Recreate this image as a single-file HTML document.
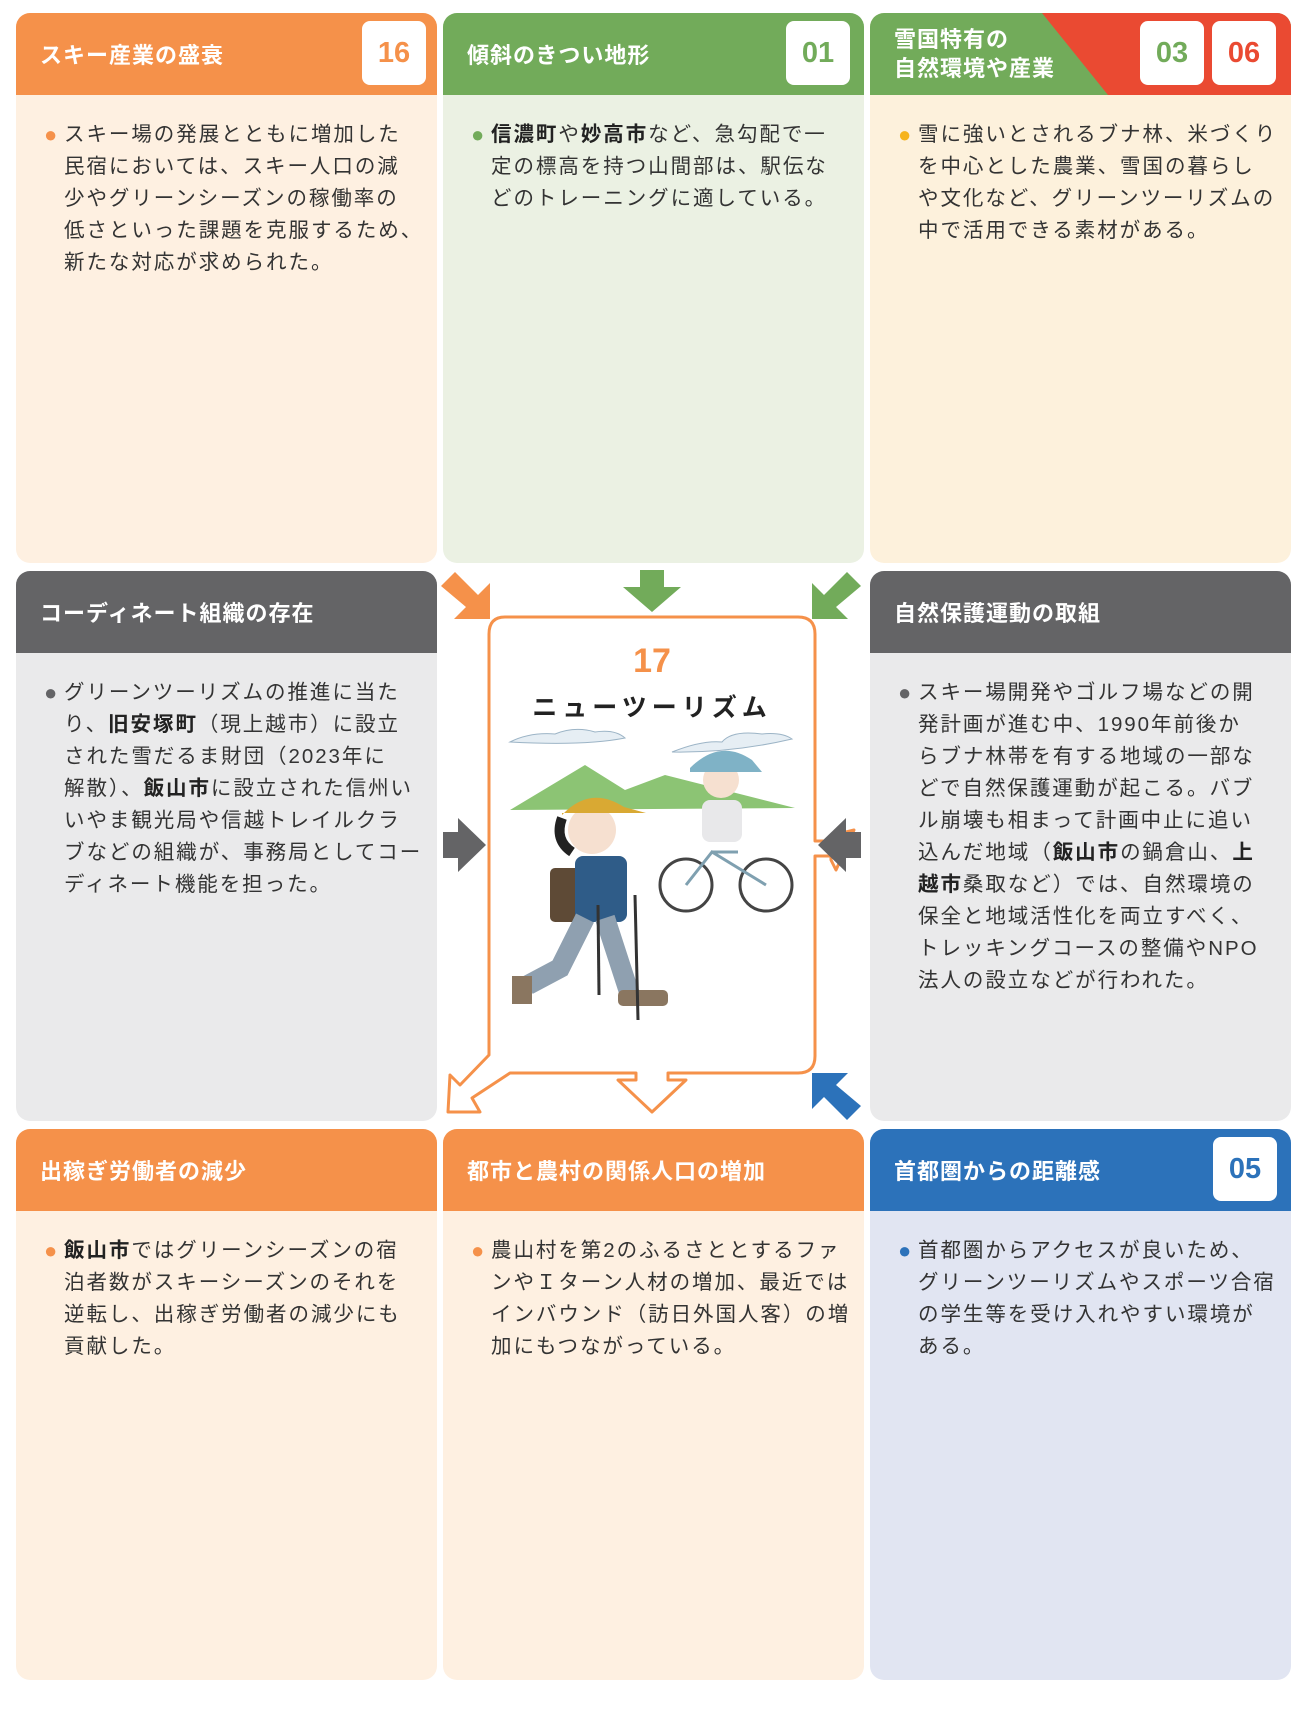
<!DOCTYPE html>
<html><head><meta charset="utf-8">
<style>
*{margin:0;padding:0;box-sizing:border-box}
body{width:1302px;height:1712px;background:#fff;position:relative;overflow:hidden;font-family:"Liberation Sans","Noto Sans CJK JP",sans-serif;}
.p{position:absolute;border-radius:14px;overflow:hidden}
.h{position:absolute;left:0;right:0;top:0;height:82px;color:#fff;font-weight:bold;font-size:22px;letter-spacing:1px;padding-left:24px;display:flex;align-items:center}
.b{position:absolute;left:0;right:0;top:82px;bottom:0;padding:24px 10px 0 48px;font-size:20.5px;line-height:32px;color:#333;letter-spacing:1.95px;white-space:nowrap}
.b .d{position:absolute;left:28px;font-size:22px;letter-spacing:0}
.num{position:absolute;top:8px;width:64px;height:64px;background:#fff;border-radius:8px;font-size:29px;font-weight:bold;display:flex;align-items:center;justify-content:center;font-family:"Liberation Sans Narrow","Liberation Sans",sans-serif}
b{font-weight:bold;color:#222}
</style></head><body>

<div class="p" style="left:16px;top:13px;width:421px;height:550px;background:#FEF0E1">
 <div class="h" style="background:#F5914A">スキー産業の盛衰</div>
 <div class="num" style="left:346px;color:#F5914A">16</div>
 <div class="b"><span class="d" style="color:#F5914A">●</span>スキー場の発展とともに増加した<br>民宿においては、スキー人口の減<br>少やグリーンシーズンの稼働率の<br>低さといった課題を克服するため、<br>新たな対応が求められた。</div>
</div>
<div class="p" style="left:443px;top:13px;width:421px;height:550px;background:#EBF1E3">
 <div class="h" style="background:#72AB5A">傾斜のきつい地形</div>
 <div class="num" style="left:343px;color:#72AB5A">01</div>
 <div class="b"><span class="d" style="color:#72AB5A">●</span><b>信濃町</b>や<b>妙高市</b>など、急勾配で一<br>定の標高を持つ山間部は、駅伝な<br>どのトレーニングに適している。</div>
</div>
<div class="p" style="left:870px;top:13px;width:421px;height:550px;background:#FDF1DC">
 <div class="h" style="background:#72AB5A;line-height:29px;align-items:center">雪国特有の<br>自然環境や産業</div>
 <svg style="position:absolute;left:0;top:0" width="421" height="82"><polygon points="172,0 421,0 421,82 238,82" fill="#EA4A32"/></svg>
 <div class="num" style="left:270px;color:#72AB5A">03</div>
 <div class="num" style="left:342px;color:#EA4A32">06</div>
 <div class="b"><span class="d" style="color:#F6B31B">●</span>雪に強いとされるブナ林、米づくり<br>を中心とした農業、雪国の暮らし<br>や文化など、グリーンツーリズムの<br>中で活用できる素材がある。</div>
</div>

<div class="p" style="left:16px;top:571px;width:421px;height:550px;background:#EAEAEB">
 <div class="h" style="background:#646466">コーディネート組織の存在</div>
 <div class="b"><span class="d" style="color:#646466">●</span>グリーンツーリズムの推進に当た<br>り、<b>旧安塚町</b>（現上越市）に設立<br>された雪だるま財団（2023年に<br>解散）、<b>飯山市</b>に設立された信州い<br>いやま観光局や信越トレイルクラ<br>ブなどの組織が、事務局としてコー<br>ディネート機能を担った。</div>
</div>
<div class="p" style="left:870px;top:571px;width:421px;height:550px;background:#EAEAEB">
 <div class="h" style="background:#646466">自然保護運動の取組</div>
 <div class="b"><span class="d" style="color:#646466">●</span>スキー場開発やゴルフ場などの開<br>発計画が進む中、1990年前後か<br>らブナ林帯を有する地域の一部な<br>どで自然保護運動が起こる。バブ<br>ル崩壊も相まって計画中止に追い<br>込んだ地域（<b>飯山市</b>の鍋倉山、<b>上<br>越市</b>桑取など）では、自然環境の<br>保全と地域活性化を両立すべく、<br>トレッキングコースの整備やNPO<br>法人の設立などが行われた。</div>
</div>

<div class="p" style="left:16px;top:1129px;width:421px;height:551px;background:#FEF0E1">
 <div class="h" style="background:#F5914A">出稼ぎ労働者の減少</div>
 <div class="b"><span class="d" style="color:#F5914A">●</span><b>飯山市</b>ではグリーンシーズンの宿<br>泊者数がスキーシーズンのそれを<br>逆転し、出稼ぎ労働者の減少にも<br>貢献した。</div>
</div>
<div class="p" style="left:443px;top:1129px;width:421px;height:551px;background:#FEF0E1">
 <div class="h" style="background:#F5914A">都市と農村の関係人口の増加</div>
 <div class="b"><span class="d" style="color:#F5914A">●</span>農山村を第2のふるさととするファ<br>ンやＩターン人材の増加、最近では<br>インバウンド（訪日外国人客）の増<br>加にもつながっている。</div>
</div>
<div class="p" style="left:870px;top:1129px;width:421px;height:551px;background:#E1E5F2">
 <div class="h" style="background:#2C72BA">首都圏からの距離感</div>
 <div class="num" style="left:343px;color:#2C72BA">05</div>
 <div class="b"><span class="d" style="color:#2C72BA">●</span>首都圏からアクセスが良いため、<br>グリーンツーリズムやスポーツ合宿<br>の学生等を受け入れやすい環境が<br>ある。</div>
</div>

<svg style="position:absolute;left:0;top:0" width="1302" height="1712">
 <polygon points="441,586 455,572 478,595 490,583 490,619 454,619 466,607" fill="#F5914A"/>
 <polygon points="640,570 664,570 664,587 681,587 652,612 623,587 640,587" fill="#72AB5A"/>
 <polygon points="861,586 847,572 824,595 812,583 812,619 848,619 836,607" fill="#72AB5A"/>
 <polygon points="443,832 458,832 458,818 486,845 458,872 458,858 443,858" fill="#646466"/>
 <polygon points="861,1106 847,1120 824,1097 812,1109 812,1073 848,1073 836,1085" fill="#2C72BA"/>
 <path d="M505,617 H798 Q815,617 815,634 V841 H832 L838,834 L854,830 L836,870 L831,860 V856 H815 V1056 Q815,1073 798,1073 H668 V1080 H686 L652,1112 L618,1080 H636 V1073 H510 L472,1098 L480,1112 H448 L450,1075 L460,1085 L489,1055 V634 Q489,617 505,617 Z" fill="#fff" stroke="#F5914A" stroke-width="3" stroke-linejoin="round"/>
 <polygon points="861,832 846,832 846,818 818,845 846,872 846,858 861,858" fill="#646466"/>
 <text x="652" y="672" text-anchor="middle" font-family="Liberation Sans,sans-serif" font-weight="bold" font-size="34" fill="#F5914A">17</text>
 <text x="652" y="716" text-anchor="middle" font-family="Liberation Sans,Noto Sans CJK JP,sans-serif" font-weight="bold" font-size="25" letter-spacing="5" fill="#222">ニューツーリズム</text>
 <path d="M510,742 q20,-10 45,-8 q20,-8 40,-2 q20,-3 30,6 q-40,8 -115,4z" fill="#E6EEF4" stroke="#9CB4C6"/>
 <path d="M672,752 q30,-12 50,-10 q10,-12 40,-8 q20,-2 30,5 q-60,14 -120,13z" fill="#E6EEF4" stroke="#9CB4C6"/>
 <polygon points="510,810 585,765 625,790 665,775 795,808" fill="#8CC474"/>
 <circle cx="721" cy="780" r="18" fill="#F6E0D0"/>
 <path d="M690,768 q30,-30 62,-8 l10,12 h-72z" fill="#7FB2C6"/>
 <rect x="702" y="800" width="40" height="42" rx="8" fill="#E8E8EA"/>
 <circle cx="686" cy="885" r="26" fill="none" stroke="#444" stroke-width="3"/>
 <circle cx="766" cy="885" r="26" fill="none" stroke="#444" stroke-width="3"/>
 <path d="M686,885 L712,852 L766,885 M712,852 L738,852" stroke="#7FA0B0" stroke-width="3" fill="none"/>
 <circle cx="592" cy="830" r="24" fill="#F6E0D0"/>
 <path d="M562,815 q28,-30 62,-8 l22,6 h-84z" fill="#D9A933"/>
 <path d="M562,818 q-8,22 10,34" fill="none" stroke="#222" stroke-width="10"/>
 <rect x="550" y="868" width="34" height="54" rx="5" fill="#5E4A36"/>
 <rect x="575" y="856" width="52" height="66" rx="8" fill="#2F5C88"/>
 <path d="M585,918 L560,968 L528,985 M605,918 L630,995" stroke="#8FA0B0" stroke-width="20" fill="none"/>
 <rect x="512" y="976" width="20" height="28" fill="#8A7660"/>
 <rect x="618" y="990" width="50" height="16" rx="5" fill="#8A7660"/>
 <line x1="635" y1="895" x2="638" y2="1020" stroke="#333" stroke-width="3"/>
 <line x1="598" y1="905" x2="599" y2="995" stroke="#333" stroke-width="3"/>
</svg>
</body></html>
